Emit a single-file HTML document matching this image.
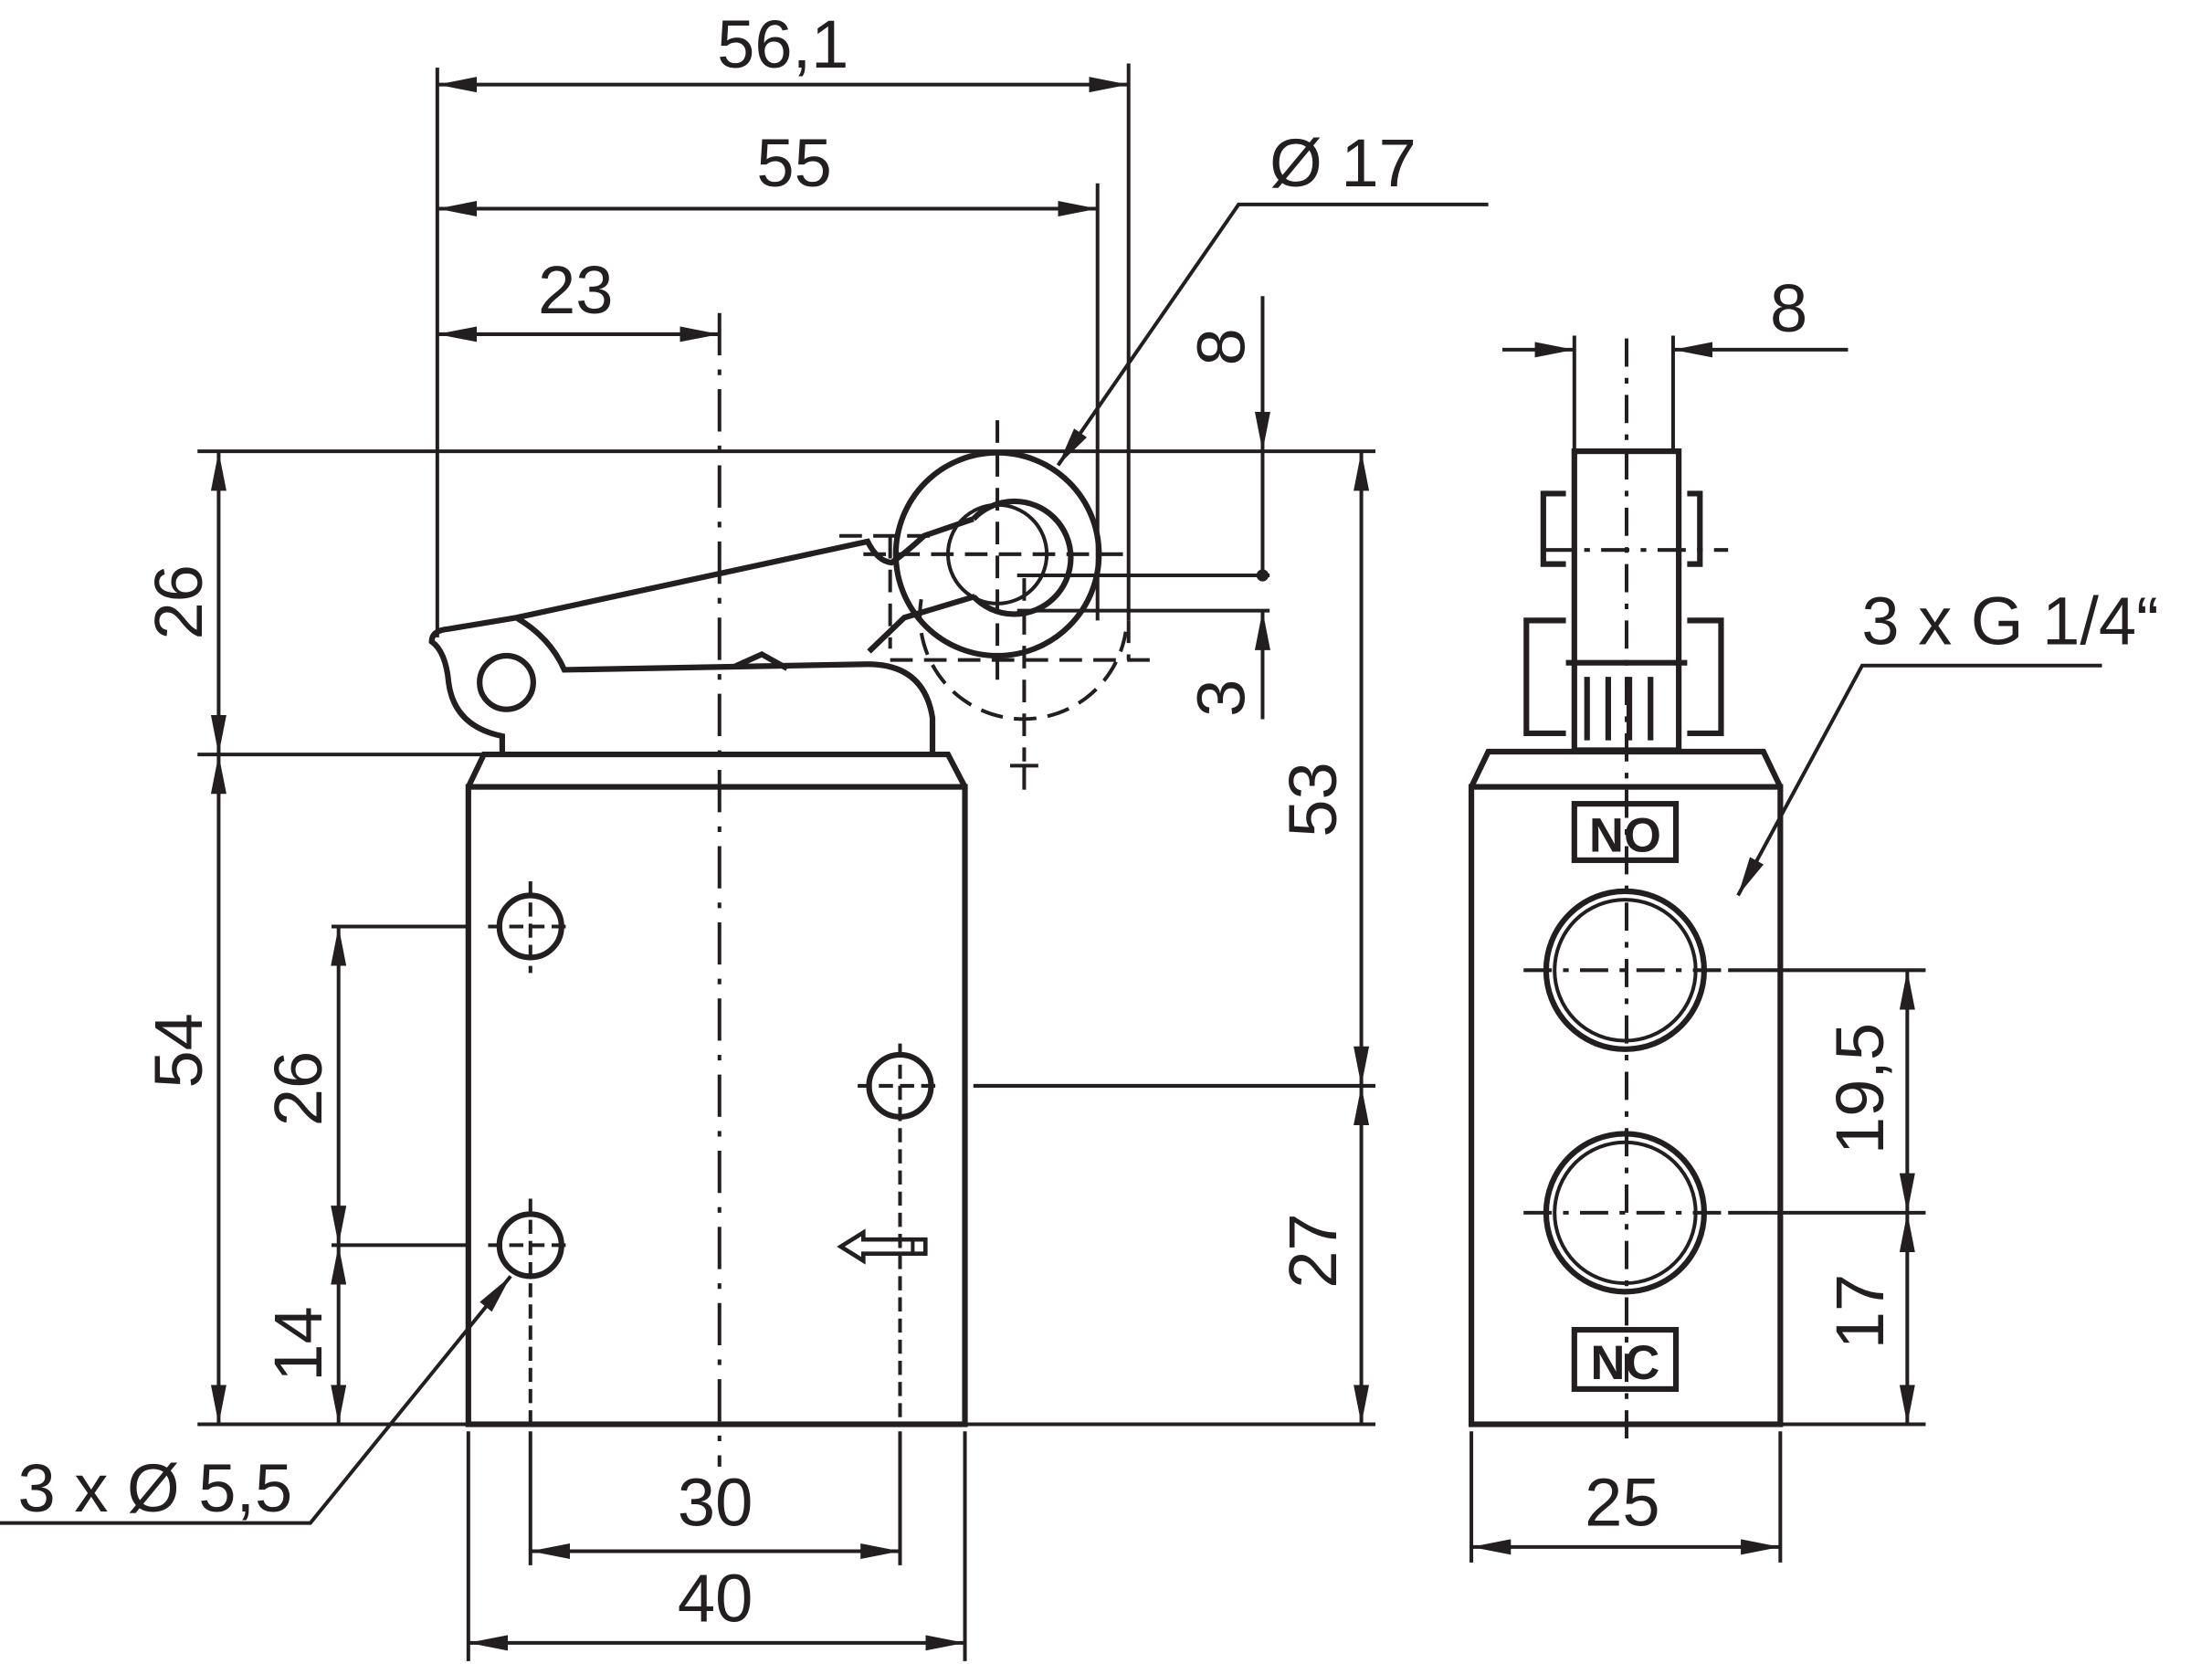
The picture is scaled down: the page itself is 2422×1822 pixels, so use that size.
<!DOCTYPE html>
<html><head><meta charset="utf-8"><style>html,body{margin:0;padding:0;background:#fff}svg{display:block}</style></head>
<body>
<svg width="2422" height="1822" viewBox="0 0 1568 1180" preserveAspectRatio="none" xmlns="http://www.w3.org/2000/svg">
<defs>
<marker id="a" viewBox="0 0 28 11" refX="28" refY="5.5" markerWidth="28" markerHeight="11" markerUnits="userSpaceOnUse" orient="auto-start-reverse"><path d="M0,0 L28,5.5 L0,11 z" fill="#231f20"/></marker>
</defs>
<g fill="none" stroke="#231f20" stroke-width="2.6" font-family="Liberation Sans, sans-serif">
<line x1="310" y1="48" x2="310" y2="452"/>
<line x1="800" y1="45" x2="800" y2="440"/>
<line x1="778" y1="130" x2="778" y2="440"/>
<line x1="140" y1="320" x2="975" y2="320"/>
<line x1="140" y1="1010" x2="975" y2="1010"/>
<line x1="140" y1="535" x2="345" y2="535"/>
<line x1="235" y1="657" x2="332" y2="657"/>
<line x1="235" y1="883" x2="332" y2="883"/>
<line x1="690" y1="770" x2="975" y2="770"/>
<line x1="721" y1="408" x2="900" y2="408"/>
<line x1="721" y1="433" x2="900" y2="433"/>
<line x1="376" y1="1015" x2="376" y2="1110"/>
<line x1="638" y1="1015" x2="638" y2="1110"/>
<line x1="332" y1="1015" x2="332" y2="1178"/>
<line x1="684" y1="1015" x2="684" y2="1178"/>
<line x1="310" y1="60" x2="800" y2="60" marker-start="url(#a)" marker-end="url(#a)"/>
<line x1="310" y1="148" x2="778" y2="148" marker-start="url(#a)" marker-end="url(#a)"/>
<line x1="310" y1="237" x2="510" y2="237" marker-start="url(#a)" marker-end="url(#a)"/>
<line x1="155" y1="320" x2="155" y2="535" marker-start="url(#a)" marker-end="url(#a)"/>
<line x1="155" y1="535" x2="155" y2="1010" marker-start="url(#a)" marker-end="url(#a)"/>
<line x1="240" y1="657" x2="240" y2="883" marker-start="url(#a)" marker-end="url(#a)"/>
<line x1="240" y1="883" x2="240" y2="1010" marker-start="url(#a)" marker-end="url(#a)"/>
<line x1="965" y1="320" x2="965" y2="770" marker-start="url(#a)" marker-end="url(#a)"/>
<line x1="965" y1="770" x2="965" y2="1010" marker-start="url(#a)" marker-end="url(#a)"/>
<line x1="895" y1="210" x2="895" y2="320" marker-end="url(#a)"/>
<line x1="895" y1="320" x2="895" y2="408"/>
<circle cx="895" cy="408" r="3" fill="#231f20"/>
<line x1="895" y1="510" x2="895" y2="433" marker-end="url(#a)"/>
<line x1="376" y1="1100" x2="638" y2="1100" marker-start="url(#a)" marker-end="url(#a)"/>
<line x1="332" y1="1165" x2="684" y2="1165" marker-start="url(#a)" marker-end="url(#a)"/>
<polyline points="1055,145 878,145 750,330" marker-end="url(#a)"/>
<polyline points="0,1080 220,1080 362,905" marker-end="url(#a)"/>
<line x1="510" y1="222" x2="510" y2="1040" stroke-dasharray="30,10,4,10"/>
<g stroke-width="4">
<rect x="332" y="558" width="352" height="452"/>
<polyline points="332,558 343,535 672,535 684,558"/>
<path d="M356,534 L356,522 Q322,515 318,484 Q316,462 306,455 Q306,447 318,446 L366,438 L615,384 Q622,398 632,399 Q642,392 655,380 L690,368"/>
<path d="M366,438 Q390,452 400,475 L615,471 Q655,471 661,509 L661,534"/>
<path d="M616,462 L641,438 L691,423"/>
<path d="M520,473 L540,464 L558,474"/>
<circle cx="359" cy="484" r="19"/>
<circle cx="707" cy="393" r="72"/>
<path d="M690,368 A40,40 0 1 1 690,423"/>
<circle cx="707" cy="393" r="35" stroke-width="2.6"/>
</g>
<g stroke-dasharray="16,8">
<line x1="612" y1="393" x2="800" y2="393"/>
<line x1="631" y1="468" x2="818" y2="468"/>
<path d="M653,425 A73,73 0 1 0 798,448"/>
<line x1="800" y1="440" x2="800" y2="468"/>
<line x1="726" y1="410" x2="726" y2="540"/>
<line x1="707" y1="298" x2="707" y2="490"/>
<line x1="595" y1="380" x2="660" y2="380"/>
<line x1="631" y1="380" x2="631" y2="460"/>
</g>
<line x1="716" y1="543" x2="736" y2="543"/>
<line x1="726" y1="543" x2="726" y2="560"/>
<g stroke-width="4"><circle cx="376" cy="657" r="22"/><circle cx="376" cy="883" r="22"/><circle cx="638" cy="770" r="22"/></g>
<g stroke-dasharray="10,5">
<line x1="346" y1="657" x2="406" y2="657"/><line x1="376" y1="625" x2="376" y2="690"/>
<line x1="346" y1="883" x2="406" y2="883"/><line x1="376" y1="850" x2="376" y2="1010"/>
<line x1="608" y1="770" x2="668" y2="770"/><line x1="638" y1="740" x2="638" y2="1010"/>
</g>
<path d="M596,884 L612,874 L612,879 L656,879 L656,889 L612,889 L612,894 Z" stroke-width="3"/>
<line x1="647" y1="879" x2="647" y2="889"/>
<g stroke-width="4">
<rect x="1043" y="558" width="219" height="452"/>
<polyline points="1043,558 1055,533 1250,533 1262,558"/>
<rect x="1116" y="320" width="74" height="212"/>
<circle cx="1152" cy="688" r="56"/><circle cx="1152" cy="688" r="50" stroke-width="2.6"/>
<circle cx="1152" cy="860" r="56"/><circle cx="1152" cy="860" r="50" stroke-width="2.6"/>
<rect x="1116" y="570" width="72" height="40"/>
<rect x="1116" y="943" width="72" height="42"/>
<path d="M1110,350 L1094,350 L1094,400 L1110,400 M1110,440 L1082,440 L1082,520 L1110,520 M1196,350 L1205,350 L1205,400 L1196,400 M1196,440 L1220,440 L1220,520 L1196,520"/>
<path d="M1110,470 L1196,470 M1125,480 L1125,525 M1140,480 L1140,525 M1155,480 L1155,525 M1170,480 L1170,525"/>
</g>
<g stroke-dasharray="20,8,4,8">
<line x1="1153" y1="240" x2="1153" y2="1025"/>
<line x1="1080" y1="688" x2="1225" y2="688"/>
<line x1="1080" y1="860" x2="1225" y2="860"/>
<line x1="1095" y1="390" x2="1225" y2="390"/>
</g>
<line x1="1116" y1="238" x2="1116" y2="320"/>
<line x1="1186" y1="238" x2="1186" y2="320"/>
<line x1="1065" y1="248" x2="1116" y2="248" marker-end="url(#a)"/>
<line x1="1310" y1="248" x2="1186" y2="248" marker-end="url(#a)"/>
<line x1="1225" y1="688" x2="1365" y2="688"/>
<line x1="1225" y1="860" x2="1365" y2="860"/>
<line x1="1262" y1="1010" x2="1365" y2="1010"/>
<line x1="1352" y1="688" x2="1352" y2="860" marker-start="url(#a)" marker-end="url(#a)"/>
<line x1="1352" y1="860" x2="1352" y2="1010" marker-start="url(#a)" marker-end="url(#a)"/>
<line x1="1043" y1="1015" x2="1043" y2="1108"/>
<line x1="1262" y1="1015" x2="1262" y2="1108"/>
<line x1="1043" y1="1097" x2="1262" y2="1097" marker-start="url(#a)" marker-end="url(#a)"/>
<polyline points="1490,472 1320,472 1232,635" marker-end="url(#a)"/>
</g>
<g fill="#231f20" font-family="Liberation Sans, sans-serif" font-size="48">
<text x="555" y="48" text-anchor="middle">56,1</text>
<text x="563" y="132" text-anchor="middle">55</text>
<text x="408" y="222" text-anchor="middle">23</text>
<text x="952" y="132" text-anchor="middle">Ø 17</text>
<text x="1268" y="235" text-anchor="middle">8</text>
<text x="1425" y="457" text-anchor="middle">3 x G 1/4“</text>
<text x="507" y="1082" text-anchor="middle">30</text>
<text x="507" y="1150" text-anchor="middle">40</text>
<text x="1150" y="1082" text-anchor="middle">25</text>
<text x="110" y="1072" text-anchor="middle">3 x Ø 5,5</text>
<text transform="translate(143,427) rotate(-90)" text-anchor="middle">26</text>
<text transform="translate(143,745) rotate(-90)" text-anchor="middle">54</text>
<text transform="translate(228,772) rotate(-90)" text-anchor="middle">26</text>
<text transform="translate(228,953) rotate(-90)" text-anchor="middle">14</text>
<text transform="translate(947,567) rotate(-90)" text-anchor="middle">53</text>
<text transform="translate(947,887) rotate(-90)" text-anchor="middle">27</text>
<text transform="translate(882,246) rotate(-90)" text-anchor="middle">8</text>
<text transform="translate(882,495) rotate(-90)" text-anchor="middle">3</text>
<text transform="translate(1335,772) rotate(-90)" text-anchor="middle">19,5</text>
<text transform="translate(1335,930) rotate(-90)" text-anchor="middle">17</text>
<text x="1152" y="604" text-anchor="middle" font-size="34" font-weight="bold">NO</text>
<text x="1152" y="978" text-anchor="middle" font-size="34" font-weight="bold">NC</text>
</g>
</svg>
</body></html>
